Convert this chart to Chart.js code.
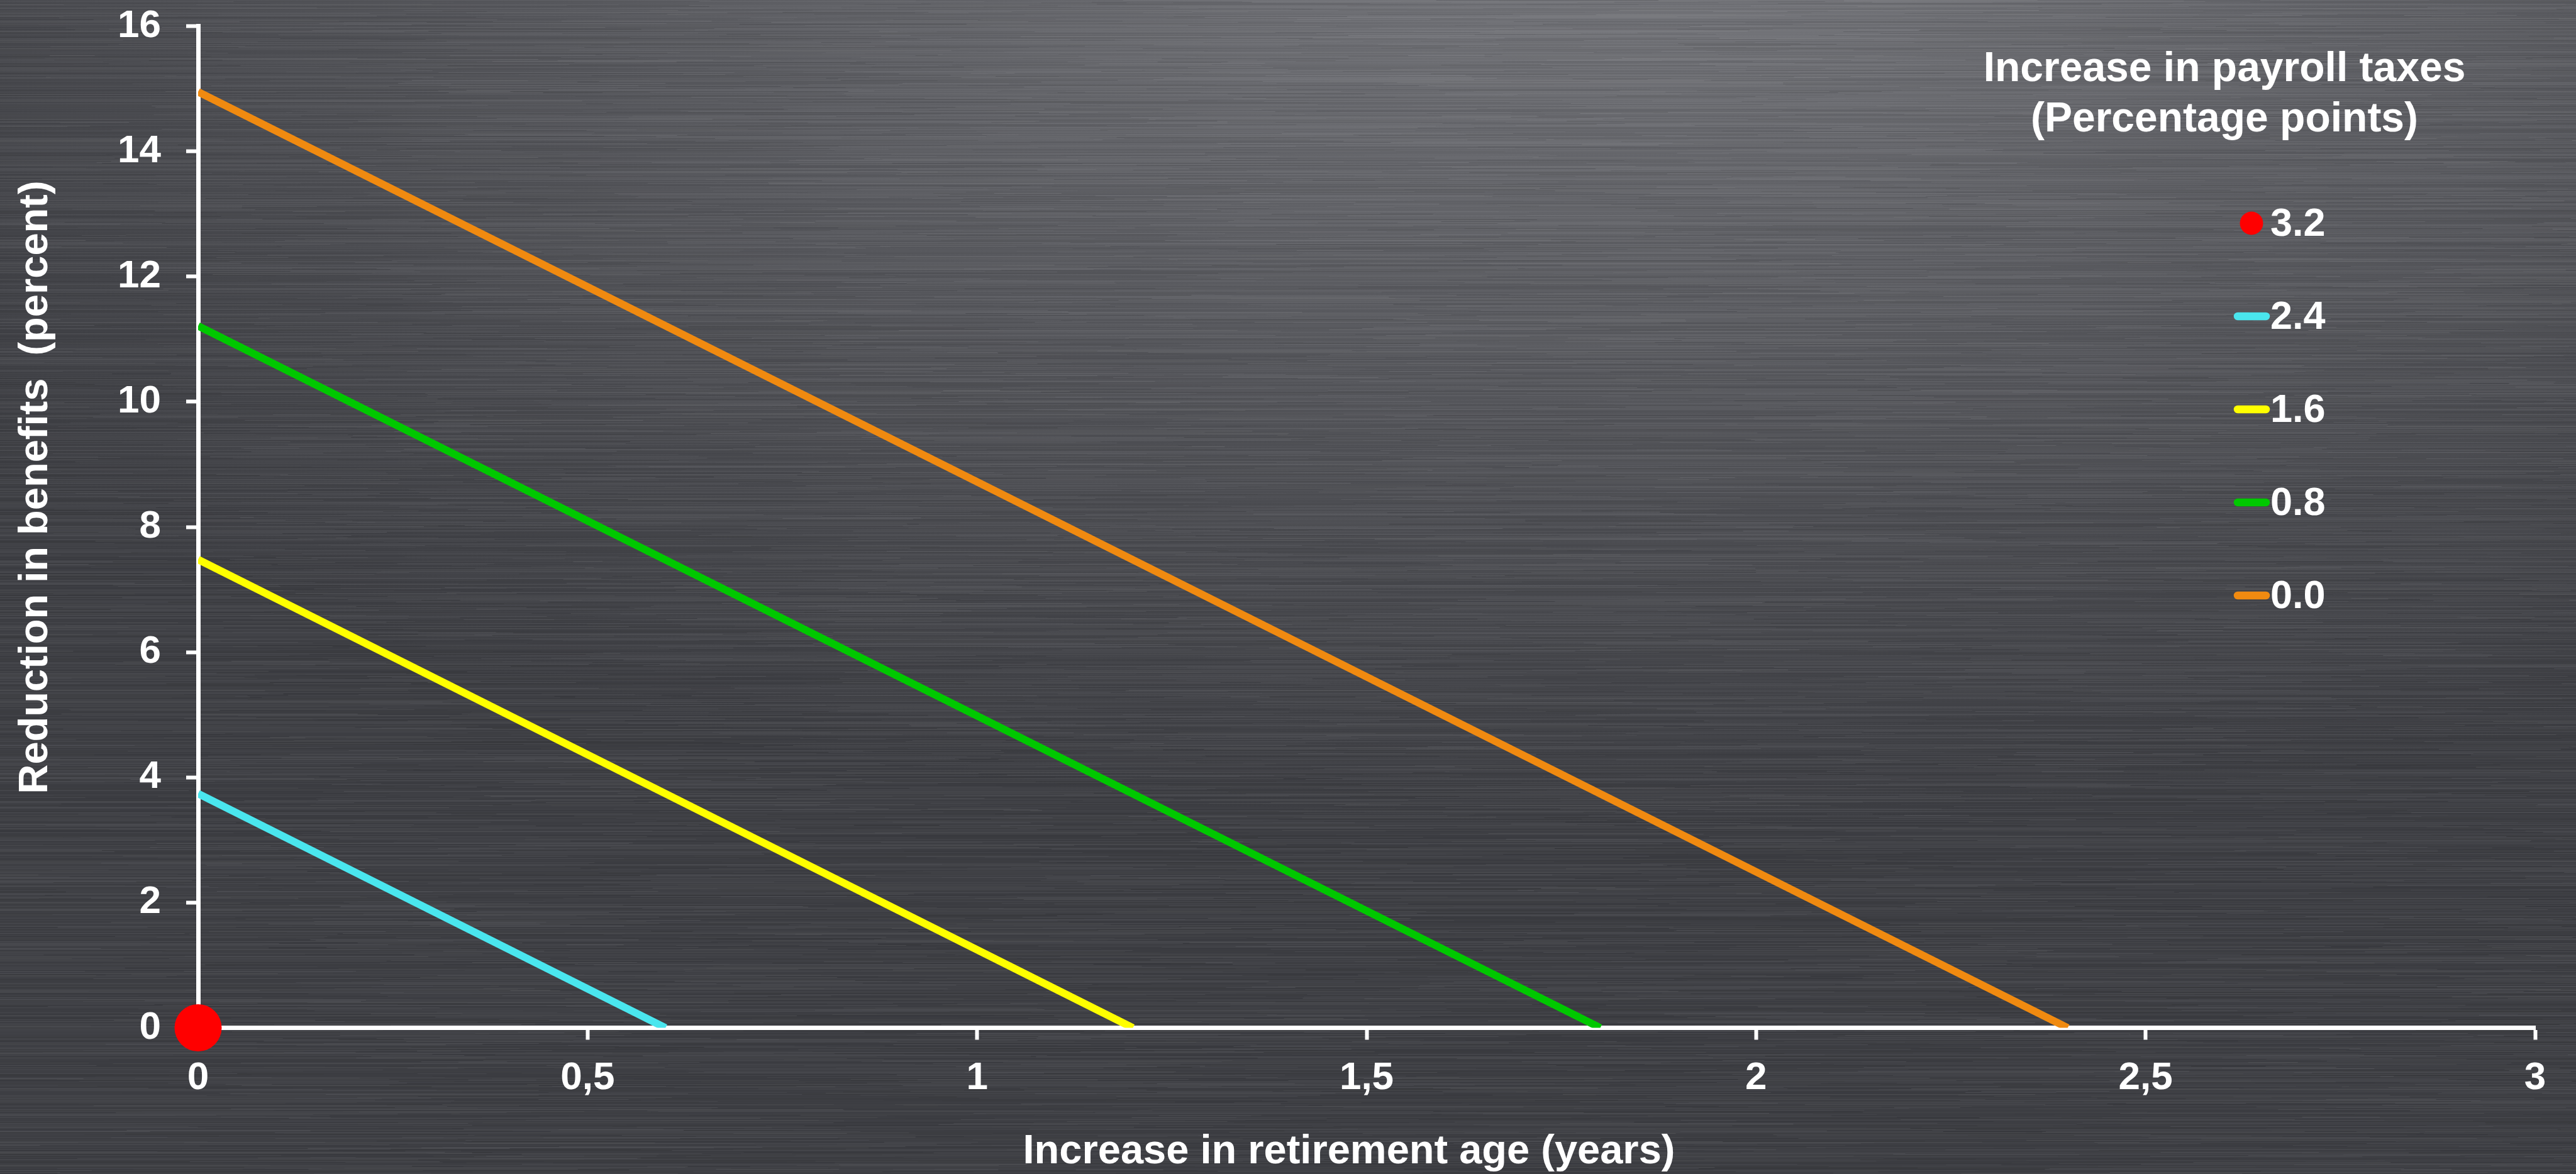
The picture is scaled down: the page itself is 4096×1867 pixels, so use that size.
<!DOCTYPE html>
<html>
<head>
<meta charset="utf-8">
<script src="https://cdn.jsdelivr.net/npm/chart.js@4/dist/chart.umd.min.js"></script>
<style>
  html, body { margin: 0; padding: 0; background: #45464b; overflow: hidden; }
  #wrap { position: relative; width: 4096px; height: 1867px; }
</style>
</head>
<body>
<div id="wrap"><canvas id="c"></canvas></div>
<script>
// Payroll-tax increase (percentage points) for each curve
const taxLabels = ['3.2', '2.4', '1.6', '0.8', '0.0'];
const seriesColors = ['#ff0000', '#4ae6ee', '#ffff00', '#00c800', '#f08a10'];

// Increase in retirement age (years) and matching reduction in benefits (percent)
const age32 = [0];        const cut32 = [0];
const age24 = [0, 0.6];   const cut24 = [3.74, 0];
const age16 = [0, 1.2];   const cut16 = [7.48, 0];
const age08 = [0, 1.8];   const cut08 = [11.21, 0];
const age00 = [0, 2.4];   const cut00 = [14.95, 0];

const xTickLabels = ['0', '0,5', '1', '1,5', '2', '2,5', '3'];
const yTickLabels = ['0', '2', '4', '6', '8', '10', '12', '14', '16'];

const legendTitle = ['Increase in payroll taxes', '(Percentage points)'];
const xTitle = 'Increase in retirement age (years)';
const yTitle = 'Reduction in benefits  (percent)';

const FONT = '"Liberation Sans", Arial, Helvetica, sans-serif';

function pairs(xs, ys) { return xs.map((x, i) => ({ x: x, y: ys[i] })); }

const seriesX = [age32, age24, age16, age08, age00];
const seriesY = [cut32, cut24, cut16, cut08, cut00];

const datasets = taxLabels.map((lab, i) => {
  const isPoint = seriesX[i].length === 1;
  return {
    label: lab,
    data: pairs(seriesX[i], seriesY[i]),
    showLine: !isPoint,
    borderColor: seriesColors[i],
    backgroundColor: seriesColors[i],
    borderWidth: isPoint ? 0 : 12,
    pointRadius: isPoint ? 37.5 : 0,
    pointHoverRadius: isPoint ? 37.5 : 0,
    pointBorderWidth: 0,
    borderCapStyle: 'butt',
    clip: isPoint ? false : 0
  };
});

// deterministic generator for the brushed-metal streaks
function mulberry32(a) {
  return function () {
    a |= 0; a = a + 0x6D2B79F5 | 0;
    let t = Math.imul(a ^ a >>> 15, 1 | a);
    t = t + Math.imul(t ^ t >>> 7, 61 | t) ^ t;
    return ((t ^ t >>> 14) >>> 0) / 4294967296;
  };
}

const backdrop = {
  id: 'backdrop',
  beforeDraw(chart) {
    const { ctx, width, height } = chart;
    ctx.save();
    ctx.fillStyle = '#3e3f44';
    ctx.fillRect(0, 0, width, height);
    ctx.save();
    ctx.translate(width * 0.63, -height * 0.1);
    ctx.scale(2.2, 1);
    const g = ctx.createRadialGradient(0, 0, 0, 0, 0, 1500);
    g.addColorStop(0, '#7c7d82');
    g.addColorStop(0.4, '#606166');
    g.addColorStop(0.75, '#4a4b50');
    g.addColorStop(1, '#3e3f44');
    ctx.fillStyle = g;
    ctx.fillRect(-width, -50, width * 2, height * 2);
    ctx.restore();
    // horizontal brushed streaks
    const rnd = mulberry32(20240611);
    for (let y = 0; y < height; y += 1) {
      let x = 0;
      while (x < width) {
        const len = 60 + rnd() * 700;
        const a = rnd() * 0.07;
        ctx.fillStyle = rnd() < 0.5 ? 'rgba(255,255,255,' + a + ')' : 'rgba(0,0,0,' + (a * 1.3) + ')';
        ctx.fillRect(x, y, len, 1);
        x += len;
      }
    }
    ctx.restore();
  }
};

const annotations = {
  id: 'annotations',
  afterDraw(chart) {
    const { ctx } = chart;
    ctx.save();
    ctx.fillStyle = '#ffffff';

    // axis titles
    ctx.font = 'bold 65px ' + FONT;
    ctx.textAlign = 'center';
    ctx.textBaseline = 'alphabetic';
    ctx.fillText(xTitle, 2145, 1850);
    ctx.save();
    ctx.translate(75, 775);
    ctx.rotate(-Math.PI / 2);
    ctx.fillText(yTitle, 0, 0);
    ctx.restore();

    // legend title
    ctx.font = 'bold 66px ' + FONT;
    ctx.fillText(legendTitle[0], 3537, 129);
    ctx.fillText(legendTitle[1], 3537, 209);

    // legend entries
    const firstY = 355, step = 148;
    chart.data.datasets.forEach((ds, i) => {
      const y = firstY + i * step;
      if (ds.showLine) {
        ctx.strokeStyle = ds.borderColor;
        ctx.lineWidth = 12.5;
        ctx.lineCap = 'round';
        ctx.beginPath();
        ctx.moveTo(3558, y);
        ctx.lineTo(3603, y);
        ctx.stroke();
      } else {
        ctx.fillStyle = ds.backgroundColor;
        ctx.beginPath();
        ctx.arc(3580, y, 18.5, 0, Math.PI * 2);
        ctx.fill();
      }
      ctx.fillStyle = '#ffffff';
      ctx.font = 'bold 63px ' + FONT;
      ctx.textAlign = 'left';
      ctx.textBaseline = 'middle';
      ctx.fillText(ds.label, 3610, y + 3);
    });
    ctx.restore();
  }
};

const tickFont = { family: FONT, size: 62, weight: 'bold' };

new Chart(document.getElementById('c'), {
  type: 'scatter',
  data: { datasets: datasets },
  options: {
    responsive: true,
    maintainAspectRatio: false,
    animation: false,
    events: [],
    layout: { padding: { top: 41.5, right: 65, left: 0, bottom: 0 } },
    plugins: { legend: { display: false }, tooltip: { enabled: false } },
    scales: {
      x: {
        type: 'linear',
        position: 'bottom',
        min: 0, max: 3,
        ticks: {
          stepSize: 0.5,
          color: '#ffffff',
          font: tickFont,
          padding: 24,
          maxRotation: 0,
          autoSkip: false,
          callback: (v, i) => xTickLabels[i]
        },
        grid: { display: true, drawOnChartArea: false, drawTicks: true, tickLength: 19, tickWidth: 6, tickColor: '#ffffff' },
        border: { display: true, color: '#ffffff', width: 7 },
        afterFit: s => { s.height = 1867 - 1634.5; s.paddingLeft = 0; s.paddingRight = 0; }
      },
      y: {
        type: 'linear',
        position: 'left',
        min: 0, max: 16,
        ticks: {
          stepSize: 2,
          color: '#ffffff',
          font: tickFont,
          padding: 40,
          autoSkip: false,
          callback: (v, i) => yTickLabels[i]
        },
        grid: { display: true, drawOnChartArea: false, drawTicks: true, tickLength: 19, tickWidth: 6, tickColor: '#ffffff' },
        border: { display: true, color: '#ffffff', width: 7 },
        afterFit: s => { s.width = 315; s.paddingTop = 0; s.paddingBottom = 0; }
      }
    }
  },
  plugins: [backdrop, annotations]
});
</script>
</body>
</html>
